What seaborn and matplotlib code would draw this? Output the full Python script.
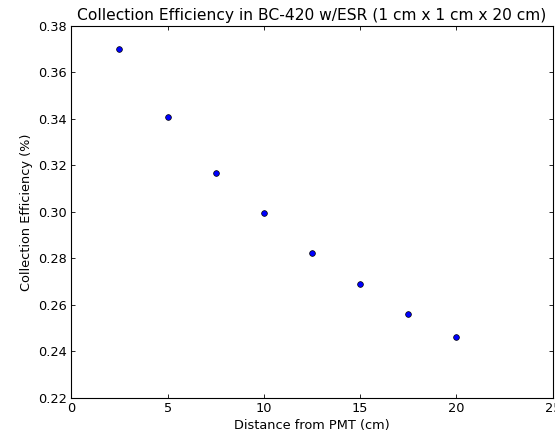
import matplotlib
matplotlib.use("Agg")
import matplotlib.pyplot as plt
import seaborn as sns
import pandas as pd

# --- Data ---
distance_cm = [2.5, 5.0, 7.5, 10.0, 12.5, 15.0, 17.5, 20.0]
efficiency = [0.3698, 0.3406, 0.3169, 0.2994, 0.2825, 0.2688, 0.2563, 0.2460]

x_ticks = [0, 5, 10, 15, 20, 25]
y_ticks = [0.22, 0.24, 0.26, 0.28, 0.30, 0.32, 0.34, 0.36, 0.38]

df = pd.DataFrame({"distance": distance_cm, "efficiency": efficiency})

sns.set_style("ticks")
plt.rcParams["font.family"] = ["DejaVu Sans"]
plt.rcParams["text.color"] = "black"
plt.rcParams["axes.labelcolor"] = "black"
plt.rcParams["xtick.direction"] = "in"
plt.rcParams["ytick.direction"] = "in"

fig = plt.figure(figsize=(5.55, 4.34), dpi=100)
ax = fig.add_axes([0.1285, 0.083, 0.8674, 0.8578])

sns.scatterplot(data=df, x="distance", y="efficiency", ax=ax,
                color="#0000ff", edgecolor="black", linewidth=0.5, s=17,
                legend=False, zorder=3)

ax.set_xlim(0, 25)
ax.set_ylim(0.22, 0.38)
ax.set_xticks(x_ticks)
ax.set_yticks(y_ticks)
ax.set_xticklabels([str(t) for t in x_ticks])
ax.set_yticklabels([f"{t:.2f}" for t in y_ticks])
ax.tick_params(which="both", direction="in", top=True, right=True,
               length=3.2, width=0.6, labelsize=9.3, pad=3, colors="black")
for sp in ax.spines.values():
    sp.set_color("black")
    sp.set_linewidth(0.8)

ax.set_title("Collection Efficiency in BC-420 w/ESR (1 cm x 1 cm x 20 cm)",
             fontsize=11.2, pad=4, color="black")
ax.set_xlabel("Distance from PMT (cm)", fontsize=9.3, labelpad=3)
ax.set_ylabel("Collection Efficiency (%)", fontsize=9.3, labelpad=4)

fig.savefig("out.png", dpi=100)
